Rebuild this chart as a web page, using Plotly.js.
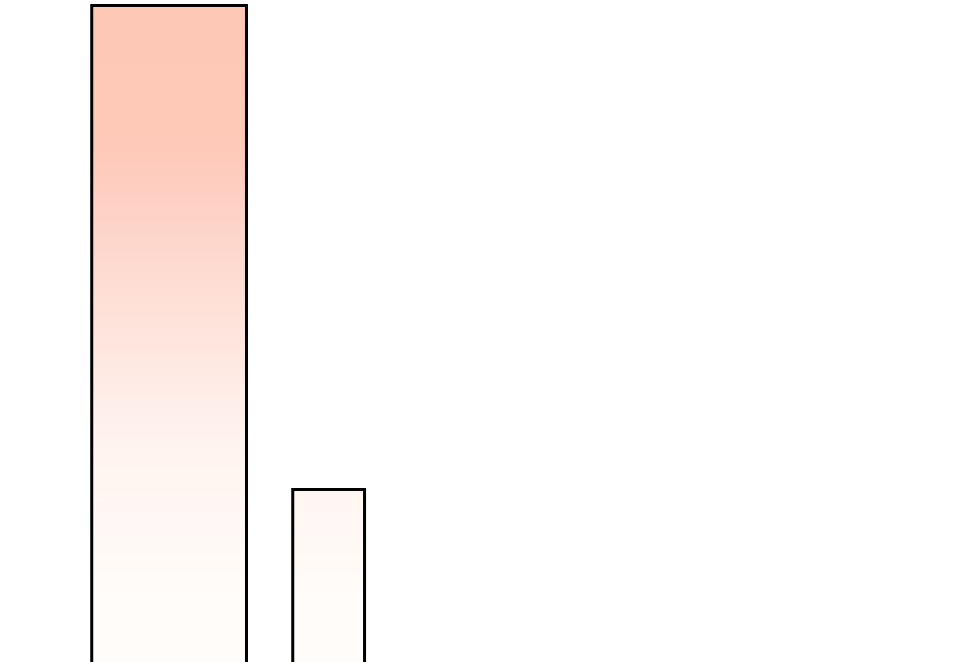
<!DOCTYPE html>
<html>
<head>
<meta charset="utf-8">
<script src="https://cdn.plot.ly/plotly-3.0.1.min.js"></script>
<style>
  html, body { margin: 0; padding: 0; background: #ffffff; }
  #chart { width: 970px; height: 662px; }
</style>
</head>
<body>
<div id="chart"></div>
<script>
// bar data
var positions = [1, 2];
var values = [80, 25];
var widths = [0.97, 0.45];

// gradient stops: [fraction of y-range, colour]
var gradStops = [
    [0.0, "#fffdfb"],
    [0.093, "#fffcf9"],
    [0.214, "#fff8f4"],
    [0.335, "#fff3ef"],
    [0.426, "#feebe5"],
    [0.546, "#fee0d6"],
    [0.697, "#fdd0c5"],
    [0.773, "#fec9b8"],
    [1.0, "#fec8b6"]
];

var yLow = 5.4;
var yHigh = 80.62;

// one closed outline per bar, filled with the shared vertical gradient
var traces = [];
for (let i = 0; i < positions.length; i++){
    var l = positions[i] - widths[i] / 2;
    var r = positions[i] + widths[i] / 2;
    traces.push({
        type: "scatter",
        mode: "lines",
        x: [l, l, r, r, l],
        y: [0, values[i], values[i], 0, 0],
        fill: "toself",
        fillgradient: {
            type: "vertical",
            colorscale: gradStops,
            start: yLow,
            stop: yHigh
        },
        line: {color: "#000000", width: 3},
        hoverinfo: "skip",
        showlegend: false
    });
}

var layout = {
    width: 970,
    height: 662,
    margin: {l: 0, r: 0, t: 0, b: 0},
    paper_bgcolor: "#ffffff",
    plot_bgcolor: "#ffffff",
    xaxis: {range: [-0.06, 6.02], visible: false, fixedrange: true},
    yaxis: {range: [yLow, yHigh], visible: false, fixedrange: true},
    showlegend: false
};

Plotly.newPlot("chart", traces, layout, {displayModeBar: false, staticPlot: true});
</script>
</body>
</html>
